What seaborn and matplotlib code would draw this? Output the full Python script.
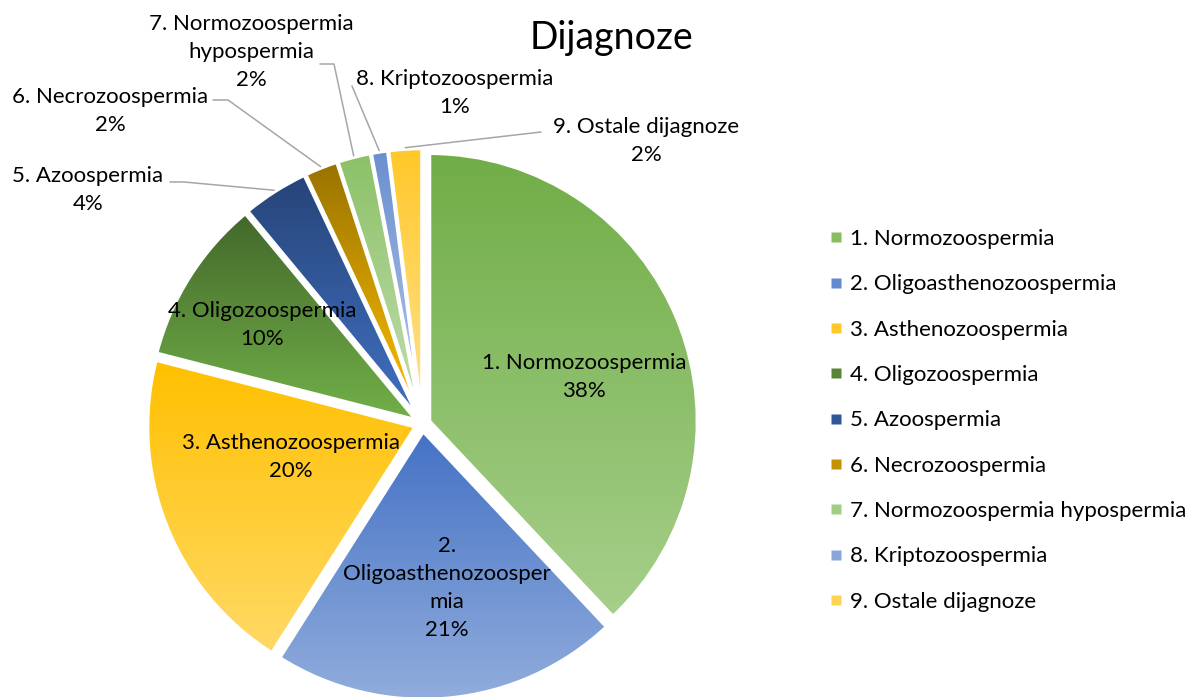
import colorsys
import numpy as np
import matplotlib
matplotlib.use("Agg")
import matplotlib.pyplot as plt
from matplotlib.lines import Line2D
import matplotlib.colors as mcolors
import seaborn as sns

# ---------------- data ----------------
categories = ["1. Normozoospermia", "2. Oligoasthenozoospermia", "3. Asthenozoospermia",
              "4. Oligozoospermia", "5. Azoospermia", "6. Necrozoospermia",
              "7. Normozoospermia hypospermia", "8. Kriptozoospermia", "9. Ostale dijagnoze"]
values = [38, 21, 20, 10, 4, 2, 2, 1, 2]
pct_labels = ["38%", "21%", "20%", "10%", "4%", "2%", "2%", "1%", "2%"]
slice_text = ["1. Normozoospermia", "2.\nOligoasthenozoosper\nmia", "3. Asthenozoospermia",
              "4. Oligozoospermia", "5. Azoospermia", "6. Necrozoospermia",
              "7. Normozoospermia\nhypospermia", "8. Kriptozoospermia", "9. Ostale dijagnoze"]
top_colors = ["#70AD47", "#4472C4", "#FFC000", "#43682B", "#264478", "#997300",
              "#8CC168", "#6A8FD0", "#FFC82A"]
title = "Dijagnoze"

# ---------------- style ----------------
sns.set_theme(style="white")
plt.rcParams["font.family"] = ["Lato", "DejaVu Sans"]

W, H = 1190, 697
fig = plt.figure(figsize=(W / 100, H / 100), dpi=100)
ax = fig.add_axes([0, 0, 1, 1])

# pie centre at pixel (cx, cy), radius R px -> data units with radius 1
cx, cy, R = 422.5, 424.0, 268.0


def set_limits():
    ax.set_xlim(-cx / R, (W - cx) / R)
    ax.set_ylim((cy - H) / R, cy / R)
    ax.set_aspect("auto")


def shade(c, dl):
    r, g, b = mcolors.to_rgb(c)
    h, l, s = colorsys.rgb_to_hls(r, g, b)
    l = min(max(l + dl, 0), 0.96)
    return colorsys.hls_to_rgb(h, l, s)


wedges, _ = ax.pie(values, startangle=90, counterclock=False, radius=1.0,
                   explode=[0.028] * len(values), colors=top_colors,
                   wedgeprops=dict(edgecolor="white", linewidth=2.6), frame=False)
set_limits()

# vertical gradient fills clipped to each wedge
for w, c in zip(wedges, top_colors):
    ext = w.get_path().get_extents()
    c0 = np.array(mcolors.to_rgb(c))
    c1 = np.array(shade(c, 0.20))
    t = np.linspace(0, 1, 256)[:, None]
    grad = (c0[None, :] * (1 - t) + c1[None, :] * t)[:, None, :]
    im = ax.imshow(grad, extent=(ext.x0, ext.x1, ext.y0, ext.y1), origin="upper",
                   aspect="auto", zorder=1, interpolation="bilinear")
    im.set_clip_path(w)
    w.set_facecolor("none")
    w.set_zorder(2)

set_limits()
ax.axis("off")


def fx(px):
    return px / W


def fy(py):
    return 1 - py / H


fs = 16
ls = 1.5
tc = "#000000"
# labels inside slices (pixel centres of the text block)
inside_pos = {0: (584, 377), 1: (447, 588), 2: (291, 457), 3: (262, 325)}
for i, (px, py) in inside_pos.items():
    fig.text(fx(px), fy(py), slice_text[i] + "\n" + pct_labels[i], ha="center", va="center",
             fontsize=fs, color=tc, linespacing=ls, zorder=5)

# labels outside with leader lines
outside_pos = {4: (88, 190), 5: (110, 111), 6: (251, 52), 7: (455, 93), 8: (646, 141)}
leader_start = {4: [(170, 182), (184, 182)], 5: [(213, 100), (228, 100)],
                6: [(320, 64), (334, 64)], 7: [(352, 86)], 8: [(541, 132)]}
for i, (px, py) in outside_pos.items():
    fig.text(fx(px), fy(py), slice_text[i] + "\n" + pct_labels[i], ha="center", va="center",
             fontsize=fs, color=tc, linespacing=ls, zorder=5)
    w = wedges[i]
    th = np.deg2rad((w.theta1 + w.theta2) / 2)
    ex = w.center[0] + w.r * 1.005 * np.cos(th)
    ey = w.center[1] + w.r * 1.005 * np.sin(th)
    epx = cx + ex * R
    epy = cy - ey * R
    pts = leader_start[i] + [(epx, epy)]
    fig.add_artist(Line2D([fx(p[0]) for p in pts], [fy(p[1]) for p in pts],
                          color="#A6A6A6", lw=1.1, transform=fig.transFigure))

fig.text(fx(612), fy(38), title, ha="center", va="center", fontsize=27, color=tc)

# legend
handles = [Line2D([0], [0], marker="s", linestyle="none", markersize=6.5,
                  markerfacecolor=shade(c, 0.08), markeredgecolor="none") for c in top_colors]
fig.legend(handles, categories, loc="upper left", bbox_to_anchor=(fx(830), fy(229)),
           frameon=False, fontsize=fs, labelspacing=1.14, handlelength=0.5,
           handletextpad=0.4, borderpad=0, borderaxespad=0, labelcolor=tc)

fig.savefig("out.png", dpi=100, facecolor="white")
